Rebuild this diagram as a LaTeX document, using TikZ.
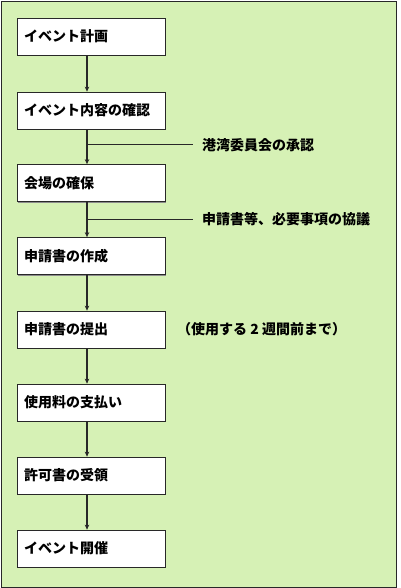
\documentclass[tikz,border=0pt]{standalone}
\usepackage{fontspec}
\setmainfont{Noto Sans CJK JP}
\usepackage{xcolor}
\usepackage{tikz}
\usetikzlibrary{arrows.meta,positioning,shadows}
\definecolor{bggreen}{RGB}{214,241,181}
\definecolor{frame}{RGB}{40,40,40}

\begin{document}
\begin{tikzpicture}[x=1pt,y=-1pt,every node/.style={font=\fontsize{14}{16}\selectfont\bfseries},
          stepbox/.style={draw=frame,fill=white,line width=0.7pt,minimum width=148pt,minimum height=37pt,
            text width=134pt,inner xsep=7pt,align=left,
            drop shadow={shadow xshift=1.2pt,shadow yshift=-1.2pt,opacity=1,fill=black!45}},
          flow/.style={frame,line width=1.2pt,-{Stealth[length=5pt,width=4.5pt]}},
          note/.style={anchor=west,inner sep=0pt}]
        \useasboundingbox (0,0) rectangle (400,588);
        \draw[fill=bggreen,draw=frame,line width=0.9pt] (1,1) rectangle (396.5,587);
        % steps
        \node[stepbox] (s1) at (91,36.5) {イベント計画};
        \node[stepbox] (s2) at (91,110.5) {イベント内容の確認};
        \node[stepbox] (s3) at (91,183) {会場の確保};
        \node[stepbox] (s4) at (91,256) {申請書の作成};
        \node[stepbox] (s5) at (91,329.5) {申請書の提出};
        \node[stepbox] (s6) at (91,402.5) {使用料の支払い};
        \node[stepbox] (s7) at (91,475.5) {許可書の受領};
        \node[stepbox] (s8) at (91,548.5) {イベント開催};
        \foreach \a/\b in {s1/s2,s2/s3,s3/s4,s4/s5,s5/s6,s6/s7,s7/s8}
          \draw[flow] ([xshift=-4pt]\a.south) -- ([xshift=-4pt]\b.north);
        % side notes
        \node[note] (n1) at (202,145) {港湾委員会の承認};
        \node[note] (n2) at (202,219) {申請書等、必要事項の協議};
        \node[note] (n3) at (177,329.5) {（使用する 2 週間前まで）};
        \coordinate (b1) at (87,145);
        \coordinate (b2) at (87,219);
        \draw[frame,line width=1pt] (b1) -- ([xshift=-9pt]n1.west);
        \draw[frame,line width=1pt] (b2) -- ([xshift=-9pt]n2.west);
      \end{tikzpicture}
\end{document}
